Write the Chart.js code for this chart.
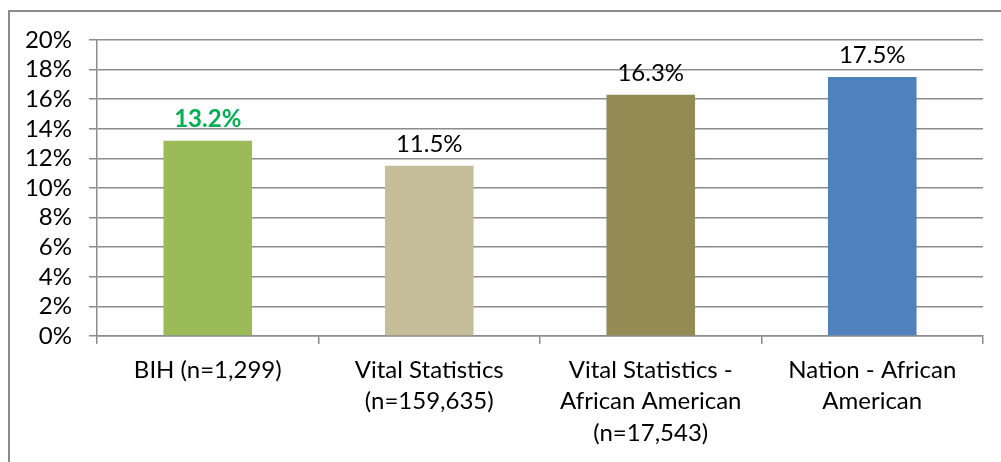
<!DOCTYPE html>
<html>
<head>
<meta charset="utf-8">
<script src="https://cdn.jsdelivr.net/npm/chart.js@4/dist/chart.umd.min.js"></script>
<style>
  body { margin: 0; background: #fff; }
  #wrap { width: 1001px; height: 462px; position: relative; }
</style>
</head>
<body>
<div id="wrap"><canvas id="rates" width="1001" height="462"></canvas></div>
<script>
const categories = [
  'BIH (n=1,299)',
  ['Vital Statistics', '(n=159,635)'],
  ['Vital Statistics -', 'African American', '(n=17,543)'],
  ['Nation - African', 'American'],
];
const rates = [13.2, 11.5, 16.3, 17.5];
const barColors = ['#9BBB59', '#C4BD97', '#948A54', '#4F81BD'];
const labelColors = ['#00B050', '#000000', '#000000', '#000000'];
const labelBold = [true, false, false, false];

const fontFamily = 'Lato, "Open Sans", sans-serif';
const gridColor = '#8c8c8c';

// frame along the top and left edges of the picture
const framePlugin = {
  id: 'frame',
  beforeDraw(chart) {
    const c = chart.ctx;
    c.save();
    c.strokeStyle = '#8a8a8a';
    c.lineWidth = 2;
    c.beginPath();
    c.moveTo(9, 462);
    c.lineTo(9, 11);
    c.lineTo(1001, 11);
    c.stroke();
    c.restore();
  },
};

// value labels above bars
const valueLabels = {
  id: 'valueLabels',
  afterDatasetsDraw(chart) {
    const c = chart.ctx;
    const meta = chart.getDatasetMeta(0);
    c.save();
    c.textAlign = 'center';
    c.textBaseline = 'alphabetic';
    meta.data.forEach((bar, i) => {
      c.font = (labelBold[i] ? 'bold ' : '') + '24px ' + fontFamily;
      c.fillStyle = labelColors[i];
      c.fillText(rates[i].toFixed(1) + '%', bar.x, bar.y - 14);
    });
    c.restore();
  },
};

const ctx = document.getElementById('rates').getContext('2d');
new Chart(ctx, {
  type: 'bar',
  data: {
    labels: categories,
    datasets: [{
      data: rates,
      backgroundColor: barColors,
      borderWidth: 0,
      barPercentage: 0.4,
      categoryPercentage: 1.0,
    }],
  },
  options: {
    responsive: false,
    maintainAspectRatio: false,
    animation: false,
    layout: { padding: { left: 0, top: 40, right: 18, bottom: 0 } },
    plugins: {
      legend: { display: false },
      tooltip: { enabled: false },
    },
    scales: {
      x: {
        offset: true,
        grid: {
          display: true,
          offset: true,
          drawOnChartArea: false,
          drawTicks: true,
          tickLength: 8,
          color: gridColor,
          lineWidth: 1.5,
        },
        border: { display: true, color: gridColor, width: 1.5 },
        ticks: {
          color: '#000',
          font: { family: fontFamily, size: 24, lineHeight: 1.32 },
          padding: 10,
          maxRotation: 0,
          autoSkip: false,
        },
        afterFit(scale) { scale.height = 126; },
      },
      y: {
        min: 0,
        max: 20,
        ticks: {
          stepSize: 2,
          autoSkip: false,
          color: '#000',
          font: { family: fontFamily, size: 24 },
          padding: 17,
          callback: (v) => v + '%',
        },
        grid: {
          color: gridColor,
          lineWidth: 1.5,
          tickLength: 8,
        },
        border: { display: true, color: gridColor, width: 1.5 },
        afterFit(scale) { scale.width = 97; },
      },
    },
  },
  plugins: [framePlugin, valueLabels],
});
</script>
</body>
</html>
